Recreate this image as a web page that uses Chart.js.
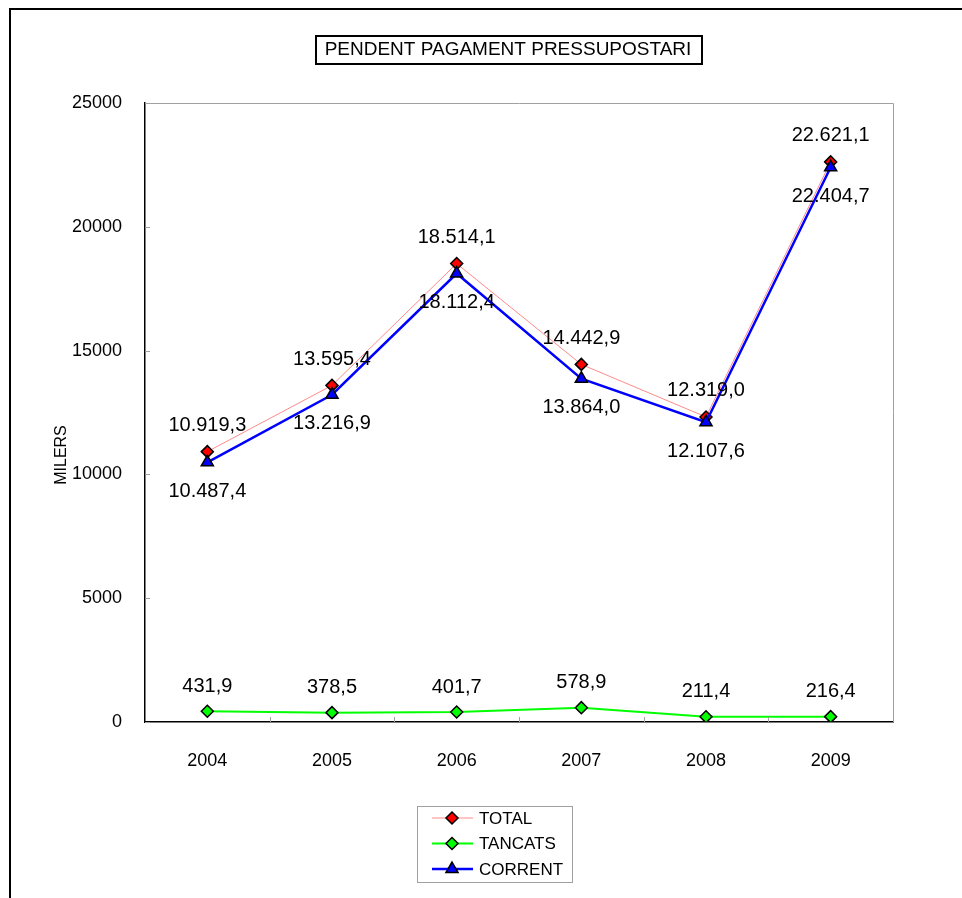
<!DOCTYPE html>
<html>
<head>
<meta charset="utf-8">
<script src="https://cdn.jsdelivr.net/npm/chart.js@4/dist/chart.umd.min.js"></script>
<style>
  body { margin: 0; background: #fff; }
  #wrap { width: 962px; height: 898px; }
</style>
</head>
<body>
<div id="wrap"><canvas id="chartCanvas" width="962" height="898"></canvas></div>
<script>
// Data
var years = ['2004', '2005', '2006', '2007', '2008', '2009'];
var total = [10919.3, 13595.4, 18514.1, 14442.9, 12319.0, 22621.1];
var tancats = [431.9, 378.5, 401.7, 578.9, 211.4, 216.4];
var corrent = [10487.4, 13216.9, 18112.4, 13864.0, 12107.6, 22404.7];
var yTicks = [0, 5000, 10000, 15000, 20000, 25000];

var FONT = '"Liberation Sans", Arial, sans-serif';

// catalan style number: 10.919,3
function fmt(v) {
  var parts = v.toFixed(1).split('.');
  var intPart = parts[0].replace(/\B(?=(\d{3})+(?!\d))/g, '.');
  return intPart + ',' + parts[1];
}

function marker(ctx, style, x, y, r, fill) {
  ctx.save();
  ctx.beginPath();
  if (style === 'triangle') {
    ctx.moveTo(x, y - r);
    ctx.lineTo(x + r * 0.866, y + r * 0.5);
    ctx.lineTo(x - r * 0.866, y + r * 0.5);
  } else {
    ctx.moveTo(x, y - r);
    ctx.lineTo(x + r, y);
    ctx.lineTo(x, y + r);
    ctx.lineTo(x - r, y);
  }
  ctx.closePath();
  ctx.fillStyle = fill;
  ctx.fill();
  ctx.lineWidth = 1.5;
  ctx.strokeStyle = '#000';
  ctx.stroke();
  ctx.restore();
}

// value labels next to the points
var labelPlugin = {
  id: 'valueLabels',
  afterDatasetsDraw: function (chart) {
    var ctx = chart.ctx;
    ctx.save();
    ctx.font = '20px ' + FONT;
    ctx.fillStyle = '#000';
    ctx.textAlign = 'center';
    ctx.textBaseline = 'middle';
    chart.data.datasets.forEach(function (ds, i) {
      var meta = chart.getDatasetMeta(i);
      meta.data.forEach(function (pt, j) {
        ctx.fillText(fmt(ds.data[j]), pt.x, pt.y + ds.labelOffset);
      });
    });
    ctx.restore();
  }
};

// frame, title box, axis title, inner ticks, legend
var decorPlugin = {
  id: 'decor',
  afterDraw: function (chart) {
    var ctx = chart.ctx;
    var area = chart.chartArea;
    var xs = chart.scales.x, ys = chart.scales.y;
    ctx.save();

    // outer frame (only left and top visible)
    ctx.strokeStyle = '#000';
    ctx.lineWidth = 2;
    ctx.beginPath();
    ctx.moveTo(10, 900);
    ctx.lineTo(10, 9);
    ctx.lineTo(964, 9);
    ctx.stroke();

    // plot frame top/right in grey
    ctx.strokeStyle = '#a0a0a0';
    ctx.lineWidth = 1;
    ctx.beginPath();
    ctx.moveTo(area.left, area.top + 0.5);
    ctx.lineTo(area.right + 0.5, area.top + 0.5);
    ctx.lineTo(area.right + 0.5, area.bottom);
    ctx.stroke();

    // inner tick marks
    ctx.strokeStyle = '#a0a0a0';
    ctx.beginPath();
    yTicks.forEach(function (v) {
      var py = Math.round(ys.getPixelForValue(v)) + 0.5;
      ctx.moveTo(area.left, py);
      ctx.lineTo(area.left + 5, py);
    });
    for (var k = 1; k < years.length; k++) {
      var px = Math.round((xs.getPixelForValue(k - 1) + xs.getPixelForValue(k)) / 2) + 0.5;
      ctx.moveTo(px, area.bottom);
      ctx.lineTo(px, area.bottom - 5);
    }
    ctx.stroke();

    // title box
    ctx.strokeStyle = '#000';
    ctx.lineWidth = 2;
    ctx.strokeRect(316, 36, 386, 28);
    ctx.fillStyle = '#000';
    ctx.font = '19px ' + FONT;
    ctx.textAlign = 'center';
    ctx.textBaseline = 'middle';
    ctx.fillText('PENDENT PAGAMENT PRESSUPOSTARI', 508, 50);

    // y axis title
    ctx.save();
    ctx.translate(62, 455);
    ctx.rotate(-Math.PI / 2);
    ctx.font = '16px ' + FONT;
    ctx.fillText('MILERS', 0, 0);
    ctx.restore();

    // legend
    ctx.strokeStyle = '#a0a0a0';
    ctx.lineWidth = 1;
    ctx.strokeRect(417.5, 806.5, 155, 76);
    ctx.font = '17px ' + FONT;
    ctx.textAlign = 'left';
    chart.data.datasets.forEach(function (ds, i) {
      var y = 818 + i * 25.5;
      ctx.strokeStyle = ds.borderColor;
      ctx.lineWidth = ds.borderWidth;
      ctx.beginPath();
      ctx.moveTo(432, y);
      ctx.lineTo(473, y);
      ctx.stroke();
      marker(ctx, ds.pointStyle, 452, y, ds.pointRadius, ds.pointBackgroundColor);
      ctx.fillStyle = '#000';
      ctx.fillText(ds.label, 479, y + 1);
    });

    ctx.restore();
  }
};

var ctx = document.getElementById('chartCanvas').getContext('2d');

var chart = new Chart(ctx, {
  type: 'line',
  data: {
    labels: years,
    datasets: [
      {
        label: 'TOTAL',
        data: total,
        borderColor: '#ff8a8a',
        borderWidth: 1,
        pointStyle: 'rectRot',
        pointRadius: 6,
        pointBackgroundColor: '#ff0000',
        pointBorderColor: '#000',
        pointBorderWidth: 1.5,
        labelOffset: -26,
        order: 2
      },
      {
        label: 'TANCATS',
        data: tancats,
        borderColor: '#00ff00',
        borderWidth: 2,
        pointStyle: 'rectRot',
        pointRadius: 6,
        pointBackgroundColor: '#00ff00',
        pointBorderColor: '#000',
        pointBorderWidth: 1.5,
        labelOffset: -25,
        order: 1
      },
      {
        label: 'CORRENT',
        data: corrent,
        borderColor: '#0000ff',
        borderWidth: 2.5,
        pointStyle: 'triangle',
        pointRadius: 7,
        pointBackgroundColor: '#0000ff',
        pointBorderColor: '#000',
        pointBorderWidth: 1.5,
        labelOffset: 29,
        order: 0
      }
    ]
  },
  options: {
    responsive: false,
    animation: false,
    layout: { padding: { top: 103, right: 69, bottom: 0, left: 0 } },
    elements: { line: { tension: 0 } },
    plugins: {
      legend: { display: false },
      title: { display: false },
      tooltip: { enabled: false }
    },
    scales: {
      x: {
        type: 'category',
        offset: true,
        grid: { display: false },
        border: { display: true, color: '#000', width: 1.5 },
        ticks: { color: '#000', font: { family: FONT, size: 18 }, padding: 20, maxRotation: 0 },
        afterFit: function (s) { s.height = 176; }
      },
      y: {
        min: 0,
        max: 25000,
        grid: { display: false },
        border: { display: true, color: '#000', width: 1.5 },
        ticks: {
          stepSize: 5000,
          color: '#000',
          font: { family: FONT, size: 18 },
          padding: 15,
          callback: function (v) { return String(v); }
        },
        afterFit: function (s) { s.width = 145; }
      }
    }
  },
  plugins: [labelPlugin, decorPlugin]
});
</script>
</body>
</html>
